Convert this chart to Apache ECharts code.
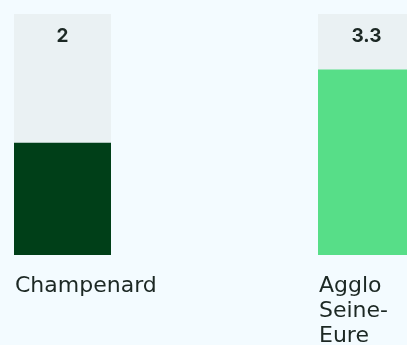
<!DOCTYPE html>
<html>
<head>
<meta charset="utf-8">
<script src="https://cdn.jsdelivr.net/npm/echarts@6/dist/echarts.min.js"></script>
<style>
  html, body { margin: 0; padding: 0; background: #f3fbff; }
  #chart { width: 407px; height: 345px; }
</style>
</head>
<body>
<div id="chart"></div>
<script>
// Communes compared, their values and the bar colour for each
const categories = ['Champenard', 'Agglo Seine-Eure'];
const values = [2, 3.3];
const barColors = ['#003f18', '#57de88'];
// Upper end of the scale: the grey track shows this full height
const yMax = 4.29;

const LABEL_FONT = '"DejaVu Sans", sans-serif';
const VALUE_FONT = 'Inter, "Noto Sans", sans-serif';
const BAR_W = 97;
const chart = echarts.init(document.getElementById('chart'));

chart.setOption({
  backgroundColor: '#f3fbff',
  animation: false,
  // categories sit on the grid edges; the second bar runs past the right side
  grid: {
    left: 62.5, right: 40.5, top: 14, bottom: 90,
    containLabel: false,
    outerBoundsMode: 'none'
  },
  xAxis: {
    type: 'category',
    boundaryGap: false,
    data: categories,
    axisLine: { show: false },
    axisTick: { show: false },
    axisLabel: {
      interval: 0,
      align: 'left',
      verticalAlign: 'top',
      margin: 19,
      padding: [0, 0, 0, -BAR_W / 2 + 1],
      fontFamily: LABEL_FONT,
      fontSize: 22,
      lineHeight: 25,
      color: '#1c2824',
      formatter: name => name.replace(' ', '\n').replace('-', '-\n')
    }
  },
  yAxis: {
    type: 'value',
    min: 0,
    max: yMax,
    show: false
  },
  series: [
    {
      // grey track behind each bar, carrying the value label at its top
      type: 'bar',
      silent: true,
      clip: false,
      barWidth: BAR_W,
      barGap: '-100%',
      data: categories.map(() => yMax),
      itemStyle: { color: '#eaf1f3' },
      label: {
        show: true,
        position: 'insideTop',
        distance: 13,
        fontFamily: VALUE_FONT,
        fontSize: 19,
        fontWeight: 'bold',
        color: '#1c2824',
        formatter: p => String(values[p.dataIndex])
      },
      z: 1
    },
    {
      type: 'bar',
      clip: false,
      barWidth: BAR_W,
      barGap: '-100%',
      data: values.map((v, i) => ({ value: v, itemStyle: { color: barColors[i] } })),
      z: 2
    }
  ]
});
</script>
</body>
</html>
